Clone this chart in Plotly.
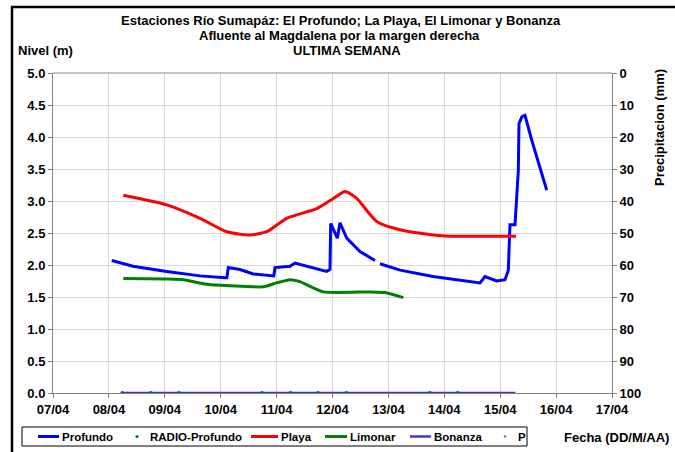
import plotly.graph_objects as go

# ---- data ----
profundo_t = ["2013-04-08 01:12", "2013-04-08 10:21", "2013-04-09 00:49", "2013-04-09 15:07",
              "2013-04-10 01:51", "2013-04-10 02:38", "2013-04-10 03:16", "2013-04-10 08:17",
              "2013-04-10 13:59", "2013-04-10 21:53", "2013-04-10 22:48", "2013-04-10 23:18",
              "2013-04-11 05:46", "2013-04-11 07:54", "2013-04-11 15:37", "2013-04-11 21:30",
              "2013-04-11 22:55", "2013-04-11 23:14", "2013-04-12 02:04", "2013-04-12 03:13",
              "2013-04-12 06:06", "2013-04-12 11:48", "2013-04-12 18:14", "2013-04-12 19:20",
              "2013-04-12 20:24", "2013-04-13 05:00", "2013-04-13 19:09", "2013-04-14 02:27",
              "2013-04-14 15:20", "2013-04-14 17:28", "2013-04-14 22:29", "2013-04-15 02:04",
              "2013-04-15 03:29", "2013-04-15 04:12", "2013-04-15 06:22", "2013-04-15 07:47",
              "2013-04-15 08:04", "2013-04-15 09:22", "2013-04-15 10:39", "2013-04-15 13:32",
              "2013-04-15 16:22", "2013-04-15 19:58"]
profundo_v = [2.07, 1.98, 1.90, 1.83,
              1.80, 1.80, 1.96, 1.93,
              1.86, 1.83, 1.83, 1.96,
              1.98, 2.03, 1.95, 1.90,
              1.93, 2.65, 2.42, 2.66,
              2.42, 2.21, 2.07, None,
              2.02, 1.92, 1.82, 1.78,
              1.72, 1.82, 1.75, 1.77,
              1.92, 2.63, 2.63, 3.48,
              4.21, 4.32, 4.34, 3.95,
              3.61, 3.17]

playa_t = ["2013-04-08 06:11", "2013-04-09 00:49", "2013-04-09 15:07", "2013-04-10 02:34",
           "2013-04-10 12:35", "2013-04-10 19:45", "2013-04-11 04:20", "2013-04-11 17:12",
           "2013-04-12 00:20", "2013-04-12 05:22", "2013-04-12 10:24", "2013-04-12 18:59",
           "2013-04-13 05:00", "2013-04-13 19:16", "2013-04-14 02:27", "2013-04-15 06:47"]
playa_v = [3.09, 2.94, 2.73, 2.52,
           2.47, 2.52, 2.73, 2.88,
           3.04, 3.15, 3.04, 2.68,
           2.55, 2.47, 2.45, 2.45]

limonar_t = ["2013-04-08 06:11", "2013-04-09 00:49", "2013-04-09 07:57", "2013-04-09 18:00",
             "2013-04-10 18:17", "2013-04-11 00:00", "2013-04-11 05:46", "2013-04-11 10:03",
             "2013-04-11 20:02", "2013-04-12 16:06", "2013-04-12 22:30", "2013-04-13 06:24"]
limonar_v = [1.79, 1.78, 1.77, 1.70,
             1.66, 1.72, 1.77, 1.74,
             1.58, 1.58, 1.57, 1.49]

bonanza_t = ["2013-04-08 05:30", "2013-04-15 06:30"]
bonanza_v = [0.0, 0.0]

radio_t = ["2013-04-08 05:45", "2013-04-08 18:00", "2013-04-09 06:00", "2013-04-10 17:45",
           "2013-04-11 06:00", "2013-04-11 17:45", "2013-04-12 06:00", "2013-04-13 17:45",
           "2013-04-14 05:45"]
radio_v = [0, 0, 0, 0, 0, 0, 0, 0, 0]

p_t = []
p_v = []

x_range = ["2013-04-07", "2013-04-17"]

# series styling (name, kind, colour)
series_style = [
    ("Profundo", "line", "#0000ff"),
    ("RADIO-Profundo", "dot", "#008000"),
    ("Playa", "line", "#ff0000"),
    ("Limonar", "line", "#008000"),
    ("Bonanza", "line", "#3838e0"),
    ("P", "dot", "#33aa33"),
]

# ---- figure ----
W, H = 675, 452
L, R, T, B = 53, 63, 73, 59
pw, ph = W - L - R, H - T - B

def px(x):
    return (x - L) / pw

def py(y):
    return (H - B - y) / ph

FONT = "Liberation Sans, Arial, sans-serif"
FS = 13

fig = go.Figure()
fig.add_trace(go.Scatter(x=profundo_t, y=profundo_v, name="Profundo", mode="lines",
                         line=dict(color="#0000ff", width=3), connectgaps=False))
fig.add_trace(go.Scatter(x=radio_t, y=radio_v, name="RADIO-Profundo", mode="markers",
                         marker=dict(color="#008000", size=4)))
fig.add_trace(go.Scatter(x=playa_t, y=playa_v, name="Playa", mode="lines",
                         line=dict(color="#ff0000", width=3, shape="spline", smoothing=0.6)))
fig.add_trace(go.Scatter(x=limonar_t, y=limonar_v, name="Limonar", mode="lines",
                         line=dict(color="#008000", width=3, shape="spline", smoothing=0.5)))
fig.add_trace(go.Scatter(x=bonanza_t, y=bonanza_v, name="Bonanza", mode="lines",
                         line=dict(color="#3838e0", width=2.5)))
fig.add_trace(go.Scatter(x=p_t, y=p_v, name="P", mode="markers", yaxis="y2",
                         marker=dict(color="#33aa33", size=3)))

tickfont = dict(family=FONT, size=FS, weight="bold", color="black")

fig.update_layout(
    width=W, height=H,
    margin=dict(l=L, r=R, t=T, b=B, autoexpand=False),
    paper_bgcolor="white", plot_bgcolor="white",
    font=dict(family=FONT, size=FS, color="black", weight="bold"),
    showlegend=False,
    xaxis=dict(type="date", range=x_range, dtick=86400000, tickformat="%d/%m",
               showgrid=True, gridcolor="#d9d9d9", gridwidth=1,
               showline=True, linecolor="#808080", linewidth=1,
               ticks="outside", ticklen=4, tickcolor="#808080",
               tickfont=tickfont, zeroline=False),
    yaxis=dict(range=[0, 5], dtick=0.5, tickformat=".1f",
               showgrid=True, gridcolor="#d9d9d9", gridwidth=1,
               showline=True, linecolor="#808080", linewidth=1,
               ticks="outside", ticklen=4, tickcolor="#808080",
               tickfont=tickfont, zeroline=False),
    yaxis2=dict(range=[100, 0], dtick=10, overlaying="y", side="right",
                showgrid=False, showline=True, linecolor="#808080", linewidth=1,
                ticks="outside", ticklen=4, tickcolor="#808080",
                tickfont=tickfont, zeroline=False),
)

ann = [
    dict(text="Estaciones Río Sumapáz: El Profundo; La Playa, El Limonar y Bonanza", x=px(341), y=py(20)),
    dict(text="Afluente al Magdalena por la margen derecha", x=px(339), y=py(36)),
    dict(text="ULTIMA SEMANA", x=px(347), y=py(51)),
]
for a in ann:
    fig.add_annotation(xref="paper", yref="paper", showarrow=False, xanchor="center", yanchor="middle",
                       font=dict(family=FONT, size=FS, weight="bold"), **a)

fig.add_annotation(text="Nivel (m)", xref="paper", yref="paper", x=px(16), y=py(51),
                   xanchor="left", yanchor="middle", showarrow=False,
                   font=dict(family=FONT, size=FS, weight="bold"))
fig.add_annotation(text="Precipitacion (mm)", xref="paper", yref="paper", x=px(659), y=py(128),
                   xanchor="center", yanchor="middle", textangle=-90, showarrow=False,
                   font=dict(family=FONT, size=FS, weight="bold"))
fig.add_annotation(text="Fecha (DD/M/AA)", xref="paper", yref="paper", x=px(671), y=py(437),
                   xanchor="right", yanchor="middle", showarrow=False,
                   font=dict(family=FONT, size=FS, weight="bold"))

# ---- legend drawn as a framed row (Excel-style compact spacing) ----
leg_y = 436.5
fig.add_shape(type="rect", xref="paper", yref="paper", x0=px(22), x1=px(527), y0=py(446), y1=py(427),
              line=dict(color="black", width=1), fillcolor="white")
# (symbol start, symbol end, text start) in pixels for each entry
leg_pos = [(38, 59, 60), (134, 140, 148), (251, 278, 279), (325, 347, 348), (410, 431, 432), (503, 507, 516)]
for (name, kind, col), (s0, s1, tx) in zip(series_style, leg_pos):
    if kind == "line":
        fig.add_shape(type="line", xref="paper", yref="paper", x0=px(s0), x1=px(s1),
                      y0=py(leg_y), y1=py(leg_y), line=dict(color=col, width=3 if name != "Bonanza" else 2.5))
    else:
        r = 1.6 if name != "P" else 1.3
        cx = (s0 + s1) / 2
        fig.add_shape(type="circle", xref="paper", yref="paper", x0=px(cx - r), x1=px(cx + r),
                      y0=py(leg_y + r), y1=py(leg_y - r), line=dict(color=col, width=0), fillcolor=col)
    fig.add_annotation(text=name, xref="paper", yref="paper", x=px(tx), y=py(leg_y),
                       xanchor="left", yanchor="middle", showarrow=False,
                       font=dict(family=FONT, size=11.5, weight="bold", color="black"))

# top frame line of plot area and outer chart border
fig.add_shape(type="line", xref="paper", yref="paper", x0=0, x1=1, y0=1, y1=1,
              line=dict(color="#b0b0b0", width=1.5))
fig.add_shape(type="rect", xref="paper", yref="paper", x0=px(12), x1=px(690), y0=py(470), y1=py(7),
              line=dict(color="black", width=2.5), layer="above")

fig.write_html("out.html", config={"displayModeBar": False},
               post_script="document.body.style.margin='0';document.body.style.overflow='hidden';")
